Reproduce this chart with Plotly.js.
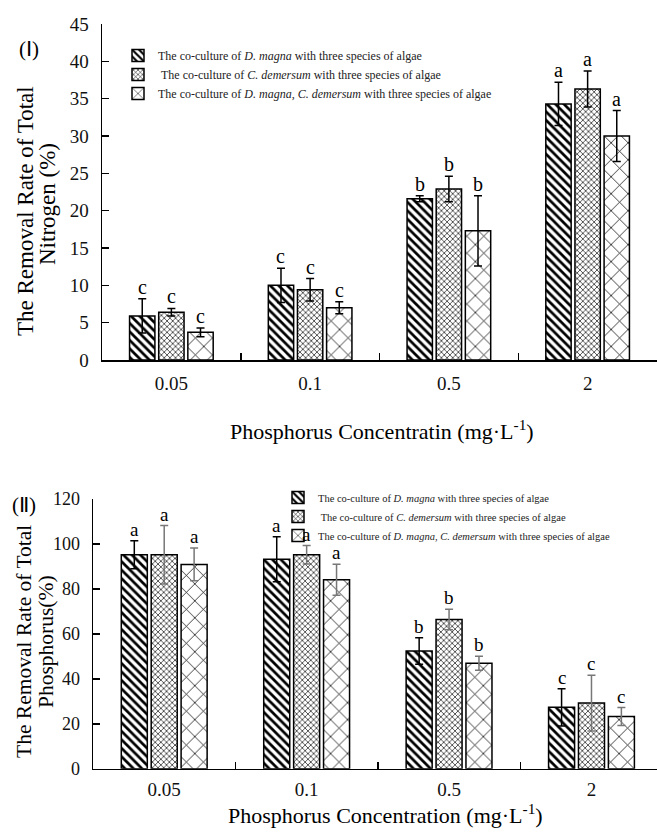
<!DOCTYPE html>
<html>
<head>
<meta charset="utf-8">
<script src="https://cdn.plot.ly/plotly-3.0.1.min.js"></script>
<style>html,body{margin:0;padding:0;background:#fff;}</style>
</head>
<body>
<div id="chart" style="width:657px;height:834px;"></div>
<script>
// ---------- data ----------
const categories = ['0.05', '0.1', '0.5', '2'];

const seriesNames = [
  'The co-culture of <i>D. magna</i> with three species of algae',
  '&nbsp;The co-culture of <i>C. demersum</i> with three species of algae',
  'The co-culture of <i>D. magna</i>, <i>C. demersum</i> with three species of algae'
];

// (I) Total nitrogen removal rate (%)
const tnDmagna = [5.9, 10.0, 21.6, 34.3];
const tnDmagnaErr = [2.3, 2.3, 0.4, 2.9];
const tnCdemersum = [6.4, 9.4, 22.9, 36.3];
const tnCdemersumErr = [0.5, 1.5, 1.7, 2.4];
const tnBoth = [3.7, 7.0, 17.3, 30.0];
const tnBothErr = [0.6, 0.8, 4.7, 3.4];
const tnLetters = [['c','c','b','a'], ['c','c','b','a'], ['c','c','b','a']];

// (II) Total phosphorus removal rate (%)
const tpDmagna = [95.2, 93.2, 52.4, 27.3];
const tpDmagnaErr = [6.2, 10.0, 5.9, 8.3];
const tpCdemersum = [95.2, 95.2, 66.4, 29.2];
const tpCdemersumErr = [13.0, 4.1, 4.6, 12.4];
const tpBoth = [90.9, 84.1, 46.9, 23.2];
const tpBothErr = [7.3, 6.9, 3.1, 4.0];
const tpLetters = [['a','a','b','c'], ['a','a','b','c'], ['a','a','b','c']];

// ---------- styling ----------
const serif = "'Liberation Serif', 'Times New Roman', serif";
const patterns = [
  {shape: '\\', size: 6, solidity: 0.45},
  {shape: 'x', size: 4, solidity: 0.3},
  {shape: 'x', size: 12, solidity: 0.12}
];
const errColorsTop = ['#000', '#000', '#000'];
const errColorsBot = ['#000', '#777', '#777'];
const bargap = 0.37, bargroupgap = 0.13;
const slot = (1 - bargap) / 3;
const offsets = [-slot, 0, slot];

function barTrace(vals, errs, i, xa, ya, leg, errColor) {
  return {
    type: 'bar', x: categories, y: vals, name: seriesNames[i],
    xaxis: xa, yaxis: ya, legend: leg,
    marker: {
      color: 'white',
      line: {color: '#000', width: 1.5},
      pattern: Object.assign({fgcolor: '#000', bgcolor: 'white', fillmode: 'replace'}, patterns[i])
    },
    error_y: {type: 'data', array: errs, visible: true, color: errColor, thickness: 1.5, width: 4}
  };
}

const topVals = [tnDmagna, tnCdemersum, tnBoth];
const topErrs = [tnDmagnaErr, tnCdemersumErr, tnBothErr];
const botVals = [tpDmagna, tpCdemersum, tpBoth];
const botErrs = [tpDmagnaErr, tpCdemersumErr, tpBothErr];

const data = [];
for (let i = 0; i < 3; i++) data.push(barTrace(topVals[i], topErrs[i], i, 'x', 'y', 'legend', errColorsTop[i]));
for (let i = 0; i < 3; i++) data.push(barTrace(botVals[i], botErrs[i], i, 'x2', 'y2', 'legend2', errColorsBot[i]));

const annotations = [];
function letterAnn(vals, errs, letters, xref, yref, size) {
  for (let s = 0; s < 3; s++) {
    for (let c = 0; c < categories.length; c++) {
      annotations.push({
        x: c + offsets[s], y: vals[s][c] + errs[s][c], xref: xref, yref: yref,
        text: letters[s][c], showarrow: false, yanchor: 'bottom', xanchor: 'center',
        yshift: -1, font: {family: serif, size: size, color: '#000'}
      });
    }
  }
}
letterAnn(topVals, topErrs, tnLetters, 'x', 'y', 20);
letterAnn(botVals, botErrs, tpLetters, 'x2', 'y2', 19);

const W = 657, H = 834;
const px = v => v / W, py = v => 1 - v / H;

function txt(x, y, text, size, angle) {
  return {xref: 'paper', yref: 'paper', x: px(x), y: py(y), text: text, textangle: angle || 0,
    showarrow: false, xanchor: 'center', yanchor: 'middle', font: {family: serif, size: size, color: '#000'}};
}

// titles and panel labels
annotations.push(
  txt(26, 211, 'The Removal Rate of Total', 23, -90),
  txt(47, 204, 'Nitrogen (%)', 23, -90),
  txt(24, 642, 'The Removal Rate of Total', 21.5, -90),
  txt(46, 642, 'Phosphorus(%)', 21.5, -90),
  txt(382, 430, 'Phosphorus Concentratin (mg·L<sup>-1</sup>)', 22, 0),
  txt(385, 814, 'Phosphorus Concentration (mg·L<sup>-1</sup>)', 22, 0),
  txt(29, 49, '(Ⅰ)', 21, 0),
  txt(24, 505, '(Ⅱ)', 21, 0)
);

const xCommon = {
  type: 'category', showline: true, linecolor: '#000', linewidth: 1.5,
  ticks: 'inside', ticklen: 7, tickwidth: 1.5, tickcolor: '#000', tickson: 'boundaries',
  showgrid: false, zeroline: false, fixedrange: true,
  tickfont: {family: serif, size: 19, color: '#111'}
};
const yCommon = {
  showline: true, linecolor: '#000', linewidth: 1.5,
  ticks: 'inside', ticklen: 7, tickwidth: 1.5, tickcolor: '#000',
  showgrid: false, zeroline: false, fixedrange: true, ticklabelstandoff: 8
};

const layout = {
  width: W, height: H,
  margin: {l: 0, r: 0, t: 0, b: 0},
  paper_bgcolor: '#fff', plot_bgcolor: '#fff',
  barmode: 'group', bargap: bargap, bargroupgap: bargroupgap,
  showlegend: true,
  xaxis: Object.assign({}, xCommon, {domain: [px(102), 1], range: [-0.5, 3.5], anchor: 'y', ticklabelstandoff: 6}),
  yaxis: Object.assign({}, yCommon, {domain: [py(360), py(24)], range: [0, 45], dtick: 5, anchor: 'x',
    tickfont: {family: serif, size: 19, color: '#111'}}),
  xaxis2: Object.assign({}, xCommon, {domain: [px(93), 1], range: [-0.5, 3.46], anchor: 'y2', ticklabelstandoff: 3}),
  yaxis2: Object.assign({}, yCommon, {domain: [py(768.7), py(499)], range: [0, 120], dtick: 20, anchor: 'x2',
    tickfont: {family: serif, size: 18, color: '#111'}}),
  legend: {x: px(118), y: py(41), xanchor: 'left', yanchor: 'top', bgcolor: 'rgba(0,0,0,0)',
    font: {family: serif, size: 12, color: '#222'}, tracegroupgap: 0},
  legend2: {x: px(278), y: py(483), xanchor: 'left', yanchor: 'top', bgcolor: 'rgba(0,0,0,0)',
    font: {family: serif, size: 10.5, color: '#222'}, tracegroupgap: 0},
  annotations: annotations
};

Plotly.newPlot('chart', data, layout, {displayModeBar: false, staticPlot: true});
</script>
</body>
</html>
